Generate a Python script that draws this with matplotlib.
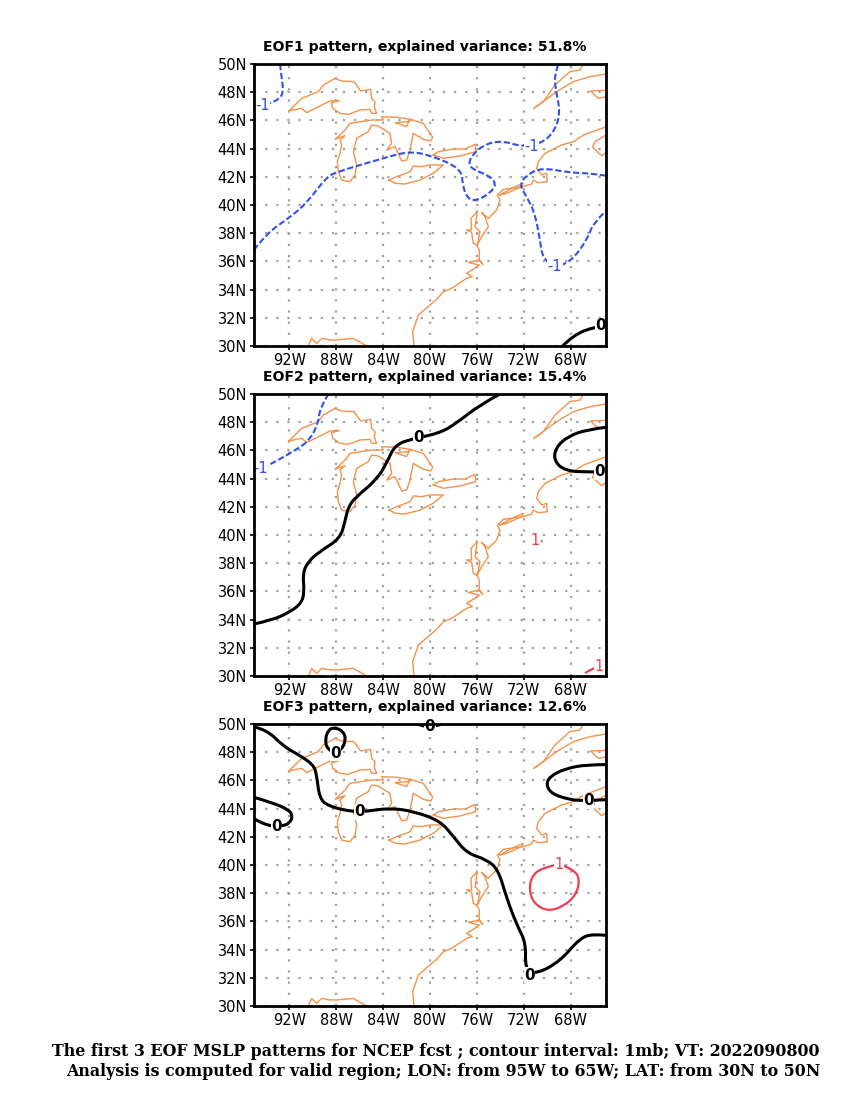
import matplotlib
matplotlib.use("Agg")
import matplotlib.pyplot as plt
from matplotlib.path import Path
from matplotlib.patches import PathPatch

# coastlines, lon / lat
superior = [(-92.02,46.67),(-90.94,47.56),(-90.37,47.75),(-89.52,48.04),(-89.09,48.51),(-88.10,48.98),(-87.53,48.79),(-86.48,48.75),(-85.91,48.09),(-85.06,48.20),(-84.97,47.56),(-84.69,47.33),(-84.74,46.93),(-84.55,46.50),(-84.97,46.50),(-85.11,46.78),(-85.97,46.74),(-86.96,46.43),(-87.67,46.50),(-88.30,46.86),(-88.38,47.26),(-87.73,47.40),(-88.52,47.38),(-90.51,46.55),(-90.94,46.86),(-92.02,46.67)]
mich_huron = [(-88.04,44.68),(-87.24,44.92),(-87.67,44.61),(-87.53,44.26),(-87.67,43.66),(-87.90,43.07),(-87.81,42.36),(-87.53,41.77),(-86.82,41.65),(-86.39,42.13),(-86.25,42.84),(-86.53,43.78),(-86.25,44.73),(-85.26,45.20),(-84.97,45.67),(-84.40,45.60),(-83.41,45.08),(-83.27,44.37),(-83.69,43.90),(-82.98,44.14),(-82.41,43.12),(-81.99,43.19),(-81.70,43.90),(-81.42,45.08),(-80.57,44.66),(-79.94,44.54),(-79.77,44.80),(-80.57,45.79),(-81.70,46.08),(-81.99,45.56),(-82.98,45.84),(-81.85,45.91),(-81.70,46.08),(-82.84,46.22),(-84.12,46.26),(-83.98,46.03),(-84.97,46.03),(-86.82,45.79),(-87.24,45.32),(-88.04,44.68)]
erie = [(-83.49,41.77),(-82.84,42.01),(-81.70,42.36),(-81.42,42.77),(-80.71,42.72),(-80.00,42.84),(-78.86,42.84),(-79.72,42.25),(-80.85,41.77),(-82.13,41.49),(-82.98,41.54),(-83.49,41.77)]
ontario = [(-79.72,43.55),(-79.29,43.78),(-78.01,43.97),(-77.02,43.97),(-76.16,44.30),(-76.11,43.78),(-77.44,43.48),(-78.86,43.31),(-79.72,43.55)]
east_coast = [(-81.36,30.0),(-81.48,31.02),(-80.99,32.20),(-80.00,32.91),(-79.43,33.31),(-78.86,33.85),(-78.15,34.09),(-76.88,34.80),(-76.39,34.92),(-76.88,35.15),(-76.31,35.44),(-75.80,35.74),(-76.73,35.93),(-75.80,36.10),(-75.51,35.79),(-75.80,36.10),(-75.80,36.81),(-76.02,37.16),(-76.31,37.28),(-76.45,38.06),(-76.88,38.23),(-76.45,38.23),(-76.51,39.05),(-75.97,39.53),(-76.16,38.46),(-75.74,38.11),(-75.97,37.16),(-75.60,37.75),(-75.03,38.46),(-75.31,39.17),(-75.60,39.48),(-75.03,39.05),(-74.32,39.65),(-74.03,40.35),(-74.26,40.71),(-73.75,41.11),(-72.05,41.30),(-71.34,41.49),(-71.19,41.77),(-70.77,41.58),(-70.0,41.65),(-70.06,42.25),(-70.48,42.13),(-70.91,42.60),(-70.77,43.07),(-70.20,43.66),(-68.78,44.26),(-67.78,44.49),(-66.93,44.96),(-65.0,45.55)]
long_island = [(-74.03,40.71),(-73.04,41.18),(-72.05,41.54),(-72.19,41.30),(-73.47,40.83),(-74.03,40.71)]
st_law_n = [(-71.14,46.86),(-70.34,47.33),(-69.35,48.51),(-68.07,49.46),(-67.22,49.57),(-66.93,50.0)]
st_law_s = [(-71.14,46.86),(-70.48,47.26),(-69.20,48.04),(-67.78,48.75),(-66.36,49.10),(-65.0,49.29)]
nova_scotia = [(-65.0,44.96),(-65.94,44.49),(-66.14,44.09),(-65.37,43.50),(-65.0,43.71)]
pei = [(-65.0,48.13),(-66.31,48.09),(-65.65,47.56),(-65.0,47.68)]
gulf = [(-90.37,30.0),(-90.09,30.54),(-89.66,30.19),(-89.23,30.54),(-88.52,30.43),(-87.95,30.43),(-86.53,30.54),(-85.54,30.07)]
coasts = [superior, mich_huron, erie, ontario, east_coast, long_island, st_law_n, st_law_s, nova_scotia, pei, gulf]

# EOF1 contours
eof1_a = [(-92.78,50.0),(-92.64,48.98),(-92.5,48.16),(-92.73,47.56),(-93.78,47.16),(-95.0,46.88)]
eof1_b = [(-95.0,36.81),(-93.92,37.99),(-92.07,39.05),(-90.51,40.12),(-88.81,42.01),(-87.81,42.36),(-86.25,42.77),(-83.98,43.31),(-81.99,43.78),(-80.28,43.62),(-77.30,42.60),(-77.22,41.30),(-76.73,40.40),(-76.02,40.31),(-74.89,40.83),(-74.32,41.49),(-75.03,42.13),(-76.31,42.48),(-76.73,42.96),(-76.31,43.66),(-75.17,44.37),(-73.75,44.54),(-72.19,44.14),(-70.63,44.33),(-69.49,45.08),(-68.86,46.50),(-69.35,48.39),(-69.35,49.34),(-69.06,50.0)]
eof1_c = [(-65.0,42.08),(-66.36,42.25),(-68.07,42.29),(-70.48,42.65),(-71.76,42.13),(-72.39,41.42),(-71.76,40.59),(-71.05,39.41),(-70.63,37.52),(-70.40,36.22),(-69.35,35.63),(-68.50,35.79),(-67.50,36.45),(-66.51,37.75),(-66.08,38.70),(-65.0,39.60)]
eof1_d = [(-68.69,30.0),(-67.78,30.78),(-65.94,31.37),(-65.0,31.45)]

# EOF2 contours
eof2_a = [(-88.66,50.0),(-89.38,49.01),(-89.52,47.94),(-90.23,46.76),(-91.36,46.05),(-93.78,44.94),(-95.0,44.40)]
eof2_b = [(-95.0,33.69),(-93.49,33.95),(-91.93,34.54),(-90.94,35.18),(-90.71,36.0),(-90.85,37.30),(-90.37,38.13),(-89.38,38.84),(-87.67,39.74),(-87.24,40.97),(-86.96,42.03),(-86.25,42.74),(-84.55,43.92),(-83.69,45.11),(-82.98,46.41),(-81.42,46.83),(-79.15,47.23),(-77.73,47.94),(-75.74,49.24),(-74.03,50.0)]
eof2_c = [(-65.0,47.64),(-66.65,47.47),(-68.21,47.0),(-69.20,46.29),(-69.49,45.34),(-68.50,44.52),(-66.08,44.47),(-65.0,44.47)]
eof2_d = [(-66.79,30.21),(-66.08,30.57),(-65.57,30.69)]
eof2_e = [(-70.56,39.56),(-70.48,39.56),(-70.42,39.56)]

# EOF3 contours
eof3_a = [(-95.0,49.79),(-93.92,49.60),(-92.5,48.42),(-91.22,47.83),(-89.94,47.12),(-89.66,46.41),(-89.43,44.75),(-88.66,44.16),(-86.53,43.76),(-85.40,43.81),(-83.41,44.04),(-81.42,43.81),(-79.15,43.14),(-78.01,42.03),(-76.88,40.85),(-75.17,40.38),(-74.18,39.67),(-73.47,37.66),(-72.61,35.77),(-71.82,34.47),(-71.90,32.58),(-70.91,32.27),(-68.92,33.17),(-67.22,34.82),(-66.08,35.11),(-65.0,35.01)]
eof3_b = [(-95.0,44.80),(-93.35,44.40),(-92.07,43.92),(-91.70,43.52),(-91.93,42.98),(-92.64,42.74),(-94.06,42.81),(-95.0,43.29)]
eof3_c = [(-88.04,47.90),(-88.75,48.18),(-88.95,48.89),(-88.66,49.60),(-88.10,49.76),(-87.39,49.48),(-87.16,48.89),(-87.53,48.18),(-88.04,47.90)]
eof3_d = [(-81.14,50.0),(-80.43,49.83),(-80.0,49.79),(-79.43,49.88),(-79.0,50.0)]
eof3_e = [(-65.0,47.12),(-66.65,47.12),(-68.49,46.83),(-69.77,46.29),(-70.11,45.70),(-69.63,45.04),(-68.07,44.63),(-66.93,44.56),(-65.0,44.63)]
eof3_f = [(-69.0,40.07),(-67.64,39.67),(-67.22,38.84),(-67.64,37.78),(-68.64,37.07),(-69.91,36.72),(-71.05,37.19),(-71.56,38.13),(-71.34,39.2),(-70.48,39.79),(-69.0,40.07)]

neg = "#3050f0"
pos = "#f03c50"
blk = "black"

panels = [
    {"title": "EOF1 pattern, explained variance: 51.8%",
     "lines": [(eof1_a, neg), (eof1_b, neg), (eof1_c, neg), (eof1_d, blk)],
     "labels": [(-94.3, 47.05, "-1", neg), (-71.34, 44.14, "-1", neg), (-69.35, 35.63, "-1", neg), (-65.45, 31.42, "0", blk)]},
    {"title": "EOF2 pattern, explained variance: 15.4%",
     "lines": [(eof2_a, neg), (eof2_b, blk), (eof2_c, blk), (eof2_d, pos), (eof2_e, pos)],
     "labels": [(-94.43, 44.70, "-1", neg), (-81.0, 46.88, "0", blk), (-65.51, 44.47, "0", blk), (-71.05, 39.62, "1", pos), (-65.57, 30.69, "1", pos)]},
    {"title": "EOF3 pattern, explained variance: 12.6%",
     "lines": [(eof3_a, blk), (eof3_b, blk), (eof3_c, blk), (eof3_d, blk), (eof3_e, blk), (eof3_f, pos)],
     "labels": [(-86.02, 43.76, "0", blk), (-71.53, 32.18, "0", blk), (-93.07, 42.74, "0", blk), (-88.04, 47.90, "0", blk), (-80.0, 49.79, "0", blk), (-66.51, 44.56, "0", blk), (-69.0, 40.07, "1", pos)]},
]

lon_ticks = [-92, -88, -84, -80, -76, -72, -68]
lat_ticks = [30, 32, 34, 36, 38, 40, 42, 44, 46, 48, 50]
axes_tops = [64, 394, 724]


def smooth_path(pts):
    # quadratic curve through the midpoints, ends stay where they are
    verts = [pts[0]]
    codes = [Path.MOVETO]
    for i in range(1, len(pts) - 1):
        if i < len(pts) - 2:
            end = ((pts[i][0] + pts[i+1][0]) / 2, (pts[i][1] + pts[i+1][1]) / 2)
        else:
            end = pts[-1]
        verts += [pts[i], end]
        codes += [Path.CURVE3, Path.CURVE3]
    return Path(verts, codes)


fig = plt.figure(figsize=(8.5, 11), dpi=100)

for top, p in zip(axes_tops, panels):
    ax = fig.add_axes([254/850, 1 - (top + 282)/1100, 352/850, 282/1100])
    ax.set_xlim(-95, -65)
    ax.set_ylim(30, 50)
    ax.set_xticks(lon_ticks)
    ax.set_xticklabels([str(-v) + "W" for v in lon_ticks])
    ax.set_yticks(lat_ticks)
    ax.set_yticklabels([str(v) + "N" for v in lat_ticks])
    ax.tick_params(length=3, width=1.2, labelsize=10.5, pad=2)
    ax.grid(True, color="#a0a0a0", linewidth=1.6, linestyle=(0, (1, 4)))
    ax.set_axisbelow(True)
    for s in ax.spines.values():
        s.set_linewidth(2)
        s.set_zorder(10)
    ax.set_title(p["title"], fontsize=10.1, fontweight="bold", pad=9, x=(425 - 254)/352)

    for c in coasts:
        ax.plot([q[0] for q in c], [q[1] for q in c], color="#f4914a", linewidth=1.0, zorder=2)

    for pts, col in p["lines"]:
        if col == blk:
            patch = PathPatch(smooth_path(pts), fill=False, edgecolor=col, linewidth=2.2, zorder=3)
        elif col == neg:
            patch = PathPatch(smooth_path(pts), fill=False, edgecolor=col, linewidth=1.5,
                              linestyle=(0, (3, 1.3)), zorder=3)
        else:
            patch = PathPatch(smooth_path(pts), fill=False, edgecolor=col, linewidth=1.6, zorder=3)
        ax.add_patch(patch)

    for x, y, txt, col in p["labels"]:
        ax.text(x, y, txt, color=col, ha="center", va="center", zorder=4,
                fontsize=11 if col == blk else 10.5,
                fontweight="bold" if col == blk else "normal",
                bbox=dict(facecolor="white", edgecolor="none", pad=0.2))

fig.text(820/850, 1 - 1051/1100, "The first 3 EOF MSLP patterns for NCEP fcst ; contour interval: 1mb; VT: 2022090800",
         family="DejaVu Serif", fontweight="bold", fontsize=11.4, ha="right", va="center")
fig.text(820/850, 1 - 1071/1100, "Analysis is computed for valid region; LON: from 95W to 65W; LAT: from 30N to 50N",
         family="DejaVu Serif", fontweight="bold", fontsize=11.4, ha="right", va="center")

fig.savefig("out.png", dpi=100)
